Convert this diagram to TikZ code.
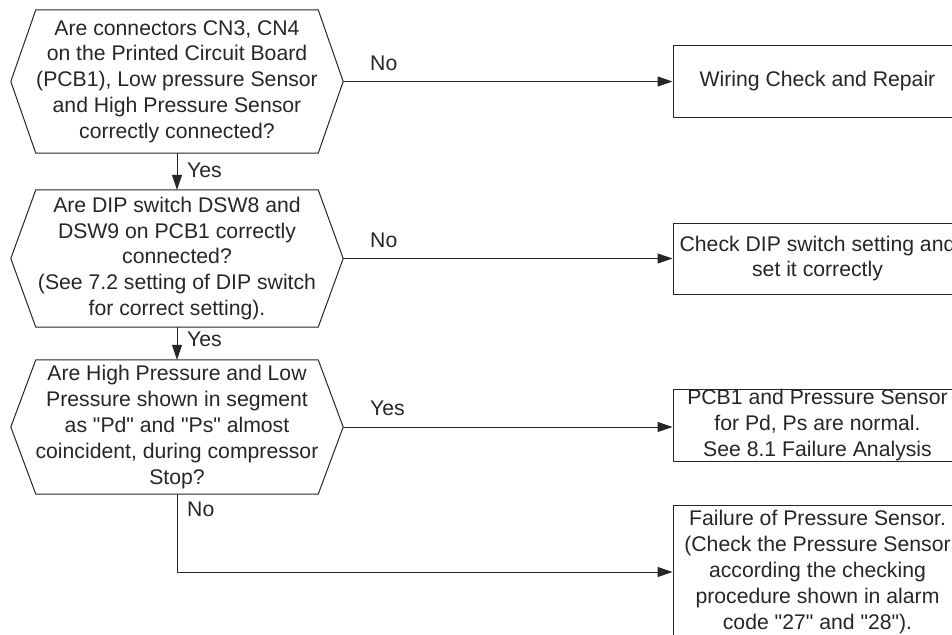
\documentclass[tikz,border=0pt]{standalone}
\usepackage{fontspec}
\setmainfont{Liberation Sans}[Ligatures=TeXOff]
\usetikzlibrary{arrows.meta}
\definecolor{ink}{RGB}{38,38,38}
\tikzset{
  every node/.style={text=ink, font=\fontsize{21.2}{25.8}\selectfont, inner sep=0pt},
  decision/.style={minimum width=332pt, align=center},
  outline/.style={draw=ink, line width=1pt, line join=miter},
  action/.style={draw=ink, line width=1pt, rectangle, minimum width=289pt, align=center},
  flow/.style={draw=ink, line width=1pt, -{Triangle[length=15pt,width=10pt]}},
  tag/.style={anchor=west}
}
% hexagonal outline around a decision node, with pointed ends 25pt deep
\newcommand\hexoutline[1]{%
  \draw[outline] ([xshift=25pt]#1.north west) -- ([xshift=-25pt]#1.north east)
    -- (#1.east) -- ([xshift=-25pt]#1.south east)
    -- ([xshift=25pt]#1.south west) -- (#1.west) -- cycle;}
\begin{document}
\begin{tikzpicture}[x=1pt,y=-1pt]
\useasboundingbox (0,0) rectangle (952,634);
\begin{scope}
\clip (0,0) rectangle (952,634);

% decisions
\node[decision, minimum height=143pt] (q1) at (177,81.5)
  {Are connectors CN3, CN4\\on the Printed Circuit Board\\(PCB1), Low pressure Sensor\\and High Pressure Sensor\\correctly connected?};
\node[decision, minimum height=137pt] (q2) at (177,258.5)
  {Are DIP switch DSW8 and\\DSW9 on PCB1 correctly\\connected?\\(See 7.2 setting of DIP switch\\for correct setting).};
\node[decision, minimum height=134pt] (q3) at (177,427)
  {Are High Pressure and Low\\Pressure shown in segment\\as "Pd" and "Ps" almost\\coincident, during compressor\\Stop?};
\hexoutline{q1}
\hexoutline{q2}
\hexoutline{q3}

% actions
\node[action, minimum height=72pt] (a1) at (817.5,81.5) {Wiring Check and Repair};
\node[action, minimum height=71pt] (a2) at (817.5,258.5) {Check DIP switch setting and\\set it correctly};
\node[action, minimum height=72pt] (a3) at (817.5,425) {PCB1 and Pressure Sensor\\for Pd, Ps are normal.\\See 8.1 Failure Analysis};
\node[action, minimum height=134pt] (a4) at (817.5,572) {Failure of Pressure Sensor.\\(Check the Pressure Sensor\\according the checking\\procedure shown in alarm\\code "27" and "28").};

% connectors
\draw[flow] (q1.south) -- (q2.north);
\draw[flow] (q2.south) -- (q3.north);
\draw[flow] (q1.east) -- (a1.west);
\draw[flow] (q2.east) -- (a2.west);
\draw[flow] (q3.east) -- (q3.east -| a3.west);
\draw[flow] (q3.south) |- (a4.west);

% branch labels
\node[tag] (l1) at (370,63) {No};
\node[tag] (l2) at (370,240) {No};
\node[tag] (l3) at (370,408) {Yes};
\node[tag] (l4) at (187,170) {Yes};
\node[tag] (l5) at (187,339) {Yes};
\node[tag] (l6) at (187,509) {No};
\end{scope}
\end{tikzpicture}
\end{document}
